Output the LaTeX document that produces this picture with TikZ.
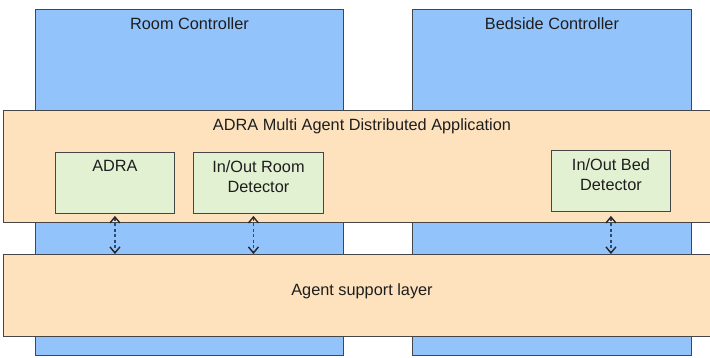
\documentclass[tikz,border=0pt]{standalone}
\usepackage{fontspec}
\setmainfont{Liberation Sans}
\usetikzlibrary{arrows.meta,calc}
\definecolor{ctrlblue}{RGB}{146,196,251}
\definecolor{peach}{RGB}{254,226,190}
\definecolor{mint}{RGB}{227,241,211}
\definecolor{edge}{RGB}{70,70,70}
\definecolor{txt}{RGB}{30,30,30}
\definecolor{dashc}{RGB}{45,75,110}
\tikzset{
  ctrl/.style={draw=edge, fill=ctrlblue, line width=0.9pt, inner sep=0pt, anchor=north west},
  band/.style={draw=edge, fill=peach, line width=0.9pt, inner sep=0pt, anchor=north west},
  agentbox/.style={draw=edge, fill=mint, line width=0.9pt, inner sep=0pt, anchor=north west},
  lbl/.style={text=txt, font=\fontsize{16.3}{20}\selectfont, inner sep=0pt, align=center},
  link/.style={draw=dashc, line width=1.1pt, dash pattern=on 3pt off 2.5pt,
    {Straight Barb[length=6pt,width=10pt,line width=1.4pt,color=black!85]}-{Straight Barb[length=6pt,width=10pt,line width=1.4pt,color=black!85]}}
}
\begin{document}
\begin{tikzpicture}[x=1pt,y=-1pt]
\useasboundingbox (0,0) rectangle (710,358);
\clip (0,0) rectangle (710,358);
\fill[white] (0,0) rectangle (710,358);
% controllers
\node[ctrl, minimum width=308pt, minimum height=346pt] (room) at (35,9) {};
\node[ctrl, minimum width=279pt, minimum height=346pt] (bed) at (412,9) {};
\node[lbl, anchor=north] at ($(room.north)+(0,8)$) {Room Controller};
\node[lbl, anchor=north] at ($(bed.north)+(0,8)$) {Bedside Controller};
% application band
\node[band, minimum width=730pt, minimum height=112pt] (app) at (3,110) {};
\node[lbl, anchor=north] at (362,118) {ADRA Multi Agent Distributed Application};
% agent boxes
\node[agentbox, minimum width=119pt, minimum height=61pt] (adra) at (55,152) {};
\node[agentbox, minimum width=130pt, minimum height=61pt] (roomdet) at (193,152) {};
\node[agentbox, minimum width=119pt, minimum height=61pt] (beddet) at (551,150) {};
\node[lbl, anchor=north] at ($(adra.north)+(0,8)$) {ADRA};
\node[lbl, anchor=north] at ($(roomdet.north)+(0,8)$) {In/Out Room\\Detector};
\node[lbl, anchor=north] at ($(beddet.north)+(0,8)$) {In/Out Bed\\Detector};
% agent support layer
\node[band, minimum width=730pt, minimum height=82pt] (support) at (3,254) {};
\node[lbl] at (362,291) {Agent support layer};
% link end points
\coordinate (a1) at ($(adra.south)+(0,2)$);
\coordinate (a2) at ($(roomdet.south)+(-5,2)$);
\coordinate (a3) at ($(beddet.south)+(0,4)$);
% links
\draw[link] (a1) -- (a1 |- support.north);
\draw[link] (a2) -- (a2 |- support.north);
\draw[link] (a3) -- (a3 |- support.north);
\end{tikzpicture}
\end{document}
